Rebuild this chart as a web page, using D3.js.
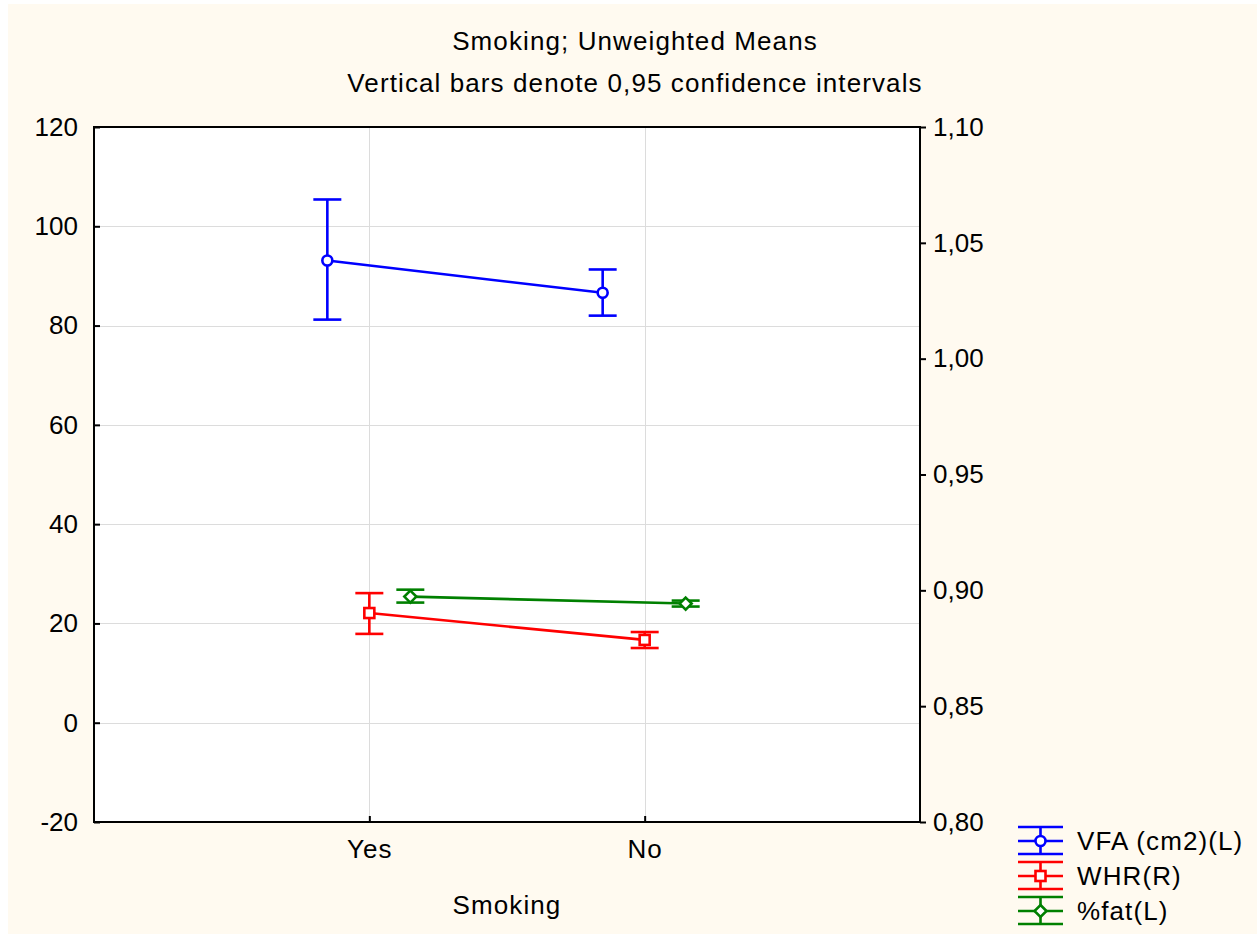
<!DOCTYPE html>
<html>
<head>
<meta charset="utf-8">
<script src="https://cdn.jsdelivr.net/npm/d3@7"></script>
<style>
  html, body { margin: 0; padding: 0; background: #ffffff; }
  svg { display: block; font-family: Arial, "Liberation Sans", sans-serif; }
</style>
</head>
<body>
<svg id="chart" width="1257" height="934"></svg>
<script>
// Categories on the x axis
const categories = ["Yes", "No"];

// Series: mean with lower / upper 0,95 confidence limits per category
const vfaMean  = [93.1, 86.6];
const vfaLow   = [81.2, 82.0];
const vfaHigh  = [105.4, 91.3];

const whrMean  = [0.8902, 0.8786];
const whrLow   = [0.8812, 0.8751];
const whrHigh  = [0.8988, 0.8820];

const fatMean  = [25.4, 24.0];
const fatLow   = [24.2, 23.4];
const fatHigh  = [26.8, 24.6];

// Axis tick labels
const leftTicks  = [-20, 0, 20, 40, 60, 80, 100, 120];
const rightTicks = [0.80, 0.85, 0.90, 0.95, 1.00, 1.05, 1.10];

const titleLines = ["Smoking; Unweighted Means", "Vertical bars denote 0,95 confidence intervals"];
const xTitle = "Smoking";

const series = [
  { name: "VFA (cm2)(L)", axis: "L", color: "#0000ff", marker: "circle",  shift: -42, mean: vfaMean, low: vfaLow, high: vfaHigh },
  { name: "WHR(R)",       axis: "R", color: "#ff0000", marker: "square",  shift: 0,   mean: whrMean, low: whrLow, high: whrHigh },
  { name: "%fat(L)",      axis: "L", color: "#008000", marker: "diamond", shift: 41,  mean: fatMean, low: fatLow, high: fatHigh }
];

const svg = d3.select("#chart");
const W = 1257, H = 934;
const plot = { left: 94, top: 127, right: 920, bottom: 822 };
const FS = 26;
const LS = "1.1px";   // letter spacing for word labels
const SW = 2.6;       // stroke width of series marks

// cream page background
svg.append("rect").attr("x", 8).attr("y", 4).attr("width", W - 8).attr("height", H - 4).attr("fill", "#fffaf0");

const x = d3.scalePoint().domain(categories).range([plot.left, plot.right]).padding(1);
const yL = d3.scaleLinear().domain([-20, 120]).range([plot.bottom, plot.top]);
const yR = d3.scaleLinear().domain([0.80, 1.10]).range([plot.bottom, plot.top]);

// plot area
svg.append("rect").attr("x", plot.left).attr("y", plot.top)
  .attr("width", plot.right - plot.left).attr("height", plot.bottom - plot.top).attr("fill", "#ffffff");

// gridlines
const grid = svg.append("g").attr("stroke", "#dcdcdc").attr("stroke-width", 1);
grid.selectAll("line.h").data(leftTicks.slice(1, -1)).join("line")
  .attr("x1", plot.left).attr("x2", plot.right)
  .attr("y1", d => Math.round(yL(d)) + 0.5).attr("y2", d => Math.round(yL(d)) + 0.5);
grid.selectAll("line.v").data(categories).join("line")
  .attr("y1", plot.top).attr("y2", plot.bottom)
  .attr("x1", d => Math.round(x(d)) + 0.5).attr("x2", d => Math.round(x(d)) + 0.5);

// axes
const axisL = d3.axisLeft(yL).tickValues(leftTicks).tickSize(-6).tickPadding(16).tickFormat(d => String(d));
const axisR = d3.axisRight(yR).tickValues(rightTicks).tickSize(6).tickPadding(7)
  .tickFormat(d => d3.format(".2f")(d).replace(".", ","));
const axisB = d3.axisBottom(x).tickSize(-6).tickPadding(18);

function styleAxis(g) {
  g.select(".domain").remove();
  g.selectAll(".tick line").attr("stroke", "#000").attr("stroke-width", 2);
  g.selectAll(".tick text").attr("fill", "#000").style("font-size", FS + "px");
}
svg.append("g").attr("transform", `translate(${plot.left},0)`).call(axisL).call(styleAxis)
  .attr("font-family", null);
svg.append("g").attr("transform", `translate(${plot.right},0)`).call(axisR).call(styleAxis)
  .attr("font-family", null);
svg.append("g").attr("transform", `translate(0,${plot.bottom})`).call(axisB).call(styleAxis)
  .attr("font-family", null)
  .selectAll(".tick text").style("letter-spacing", LS);

// frame
svg.append("rect").attr("x", plot.left).attr("y", plot.top)
  .attr("width", plot.right - plot.left).attr("height", plot.bottom - plot.top)
  .attr("fill", "none").attr("stroke", "#000").attr("stroke-width", 2);

// titles
svg.selectAll("text.title").data(titleLines).join("text")
  .attr("class", "title")
  .attr("x", 635).attr("y", (d, i) => 50 + i * 42)
  .attr("text-anchor", "middle").style("font-size", FS + "px").style("letter-spacing", LS)
  .attr("fill", "#000")
  .text(d => d);
svg.append("text").attr("x", (plot.left + plot.right) / 2).attr("y", 914)
  .attr("text-anchor", "middle").style("font-size", FS + "px").style("letter-spacing", LS).text(xTitle);

function drawMarker(g, type, cx, cy, color) {
  if (type === "circle") {
    g.append("circle").attr("cx", cx).attr("cy", cy).attr("r", 5)
      .attr("fill", "#fff").attr("stroke", color).attr("stroke-width", SW);
  } else if (type === "square") {
    g.append("rect").attr("x", cx - 5).attr("y", cy - 5).attr("width", 10).attr("height", 10)
      .attr("fill", "#fff").attr("stroke", color).attr("stroke-width", SW);
  } else {
    g.append("path").attr("d", `M${cx},${cy - 6}L${cx + 6},${cy}L${cx},${cy + 6}L${cx - 6},${cy}Z`)
      .attr("fill", "#fff").attr("stroke", color).attr("stroke-width", SW);
  }
}

// series lines, error bars and markers
const capHalf = 14;
series.forEach(s => {
  const y = s.axis === "L" ? yL : yR;
  const g = svg.append("g");
  const pts = categories.map((c, i) => [x(c) + s.shift, y(s.mean[i])]);
  g.append("path").attr("d", d3.line()(pts)).attr("fill", "none")
    .attr("stroke", s.color).attr("stroke-width", SW);
  categories.forEach((c, i) => {
    const cx = x(c) + s.shift;
    const yl = y(s.low[i]), yh = y(s.high[i]);
    g.append("line").attr("x1", cx).attr("x2", cx).attr("y1", yl).attr("y2", yh)
      .attr("stroke", s.color).attr("stroke-width", SW);
    [yl, yh].forEach(yy => g.append("line").attr("x1", cx - capHalf).attr("x2", cx + capHalf)
      .attr("y1", yy).attr("y2", yy).attr("stroke", s.color).attr("stroke-width", SW));
    drawMarker(g, s.marker, cx, pts[i][1], s.color);
  });
});

// legend
const legend = svg.append("g");
series.forEach((s, i) => {
  const cy = 841 + i * 35;
  const lx1 = 1018, lx2 = 1063, lc = 1040.5;
  const g = legend.append("g");
  [cy - 14, cy, cy + 13].forEach(yy => g.append("line").attr("x1", lx1).attr("x2", lx2)
    .attr("y1", yy).attr("y2", yy).attr("stroke", s.color).attr("stroke-width", SW));
  g.append("line").attr("x1", lc).attr("x2", lc).attr("y1", cy - 14).attr("y2", cy + 13)
    .attr("stroke", s.color).attr("stroke-width", SW);
  drawMarker(g, s.marker, lc, cy, s.color);
  g.append("text").attr("x", 1077).attr("y", cy + 9).style("font-size", FS + "px")
    .style("letter-spacing", LS).text(s.name);
});
</script>
</body>
</html>
